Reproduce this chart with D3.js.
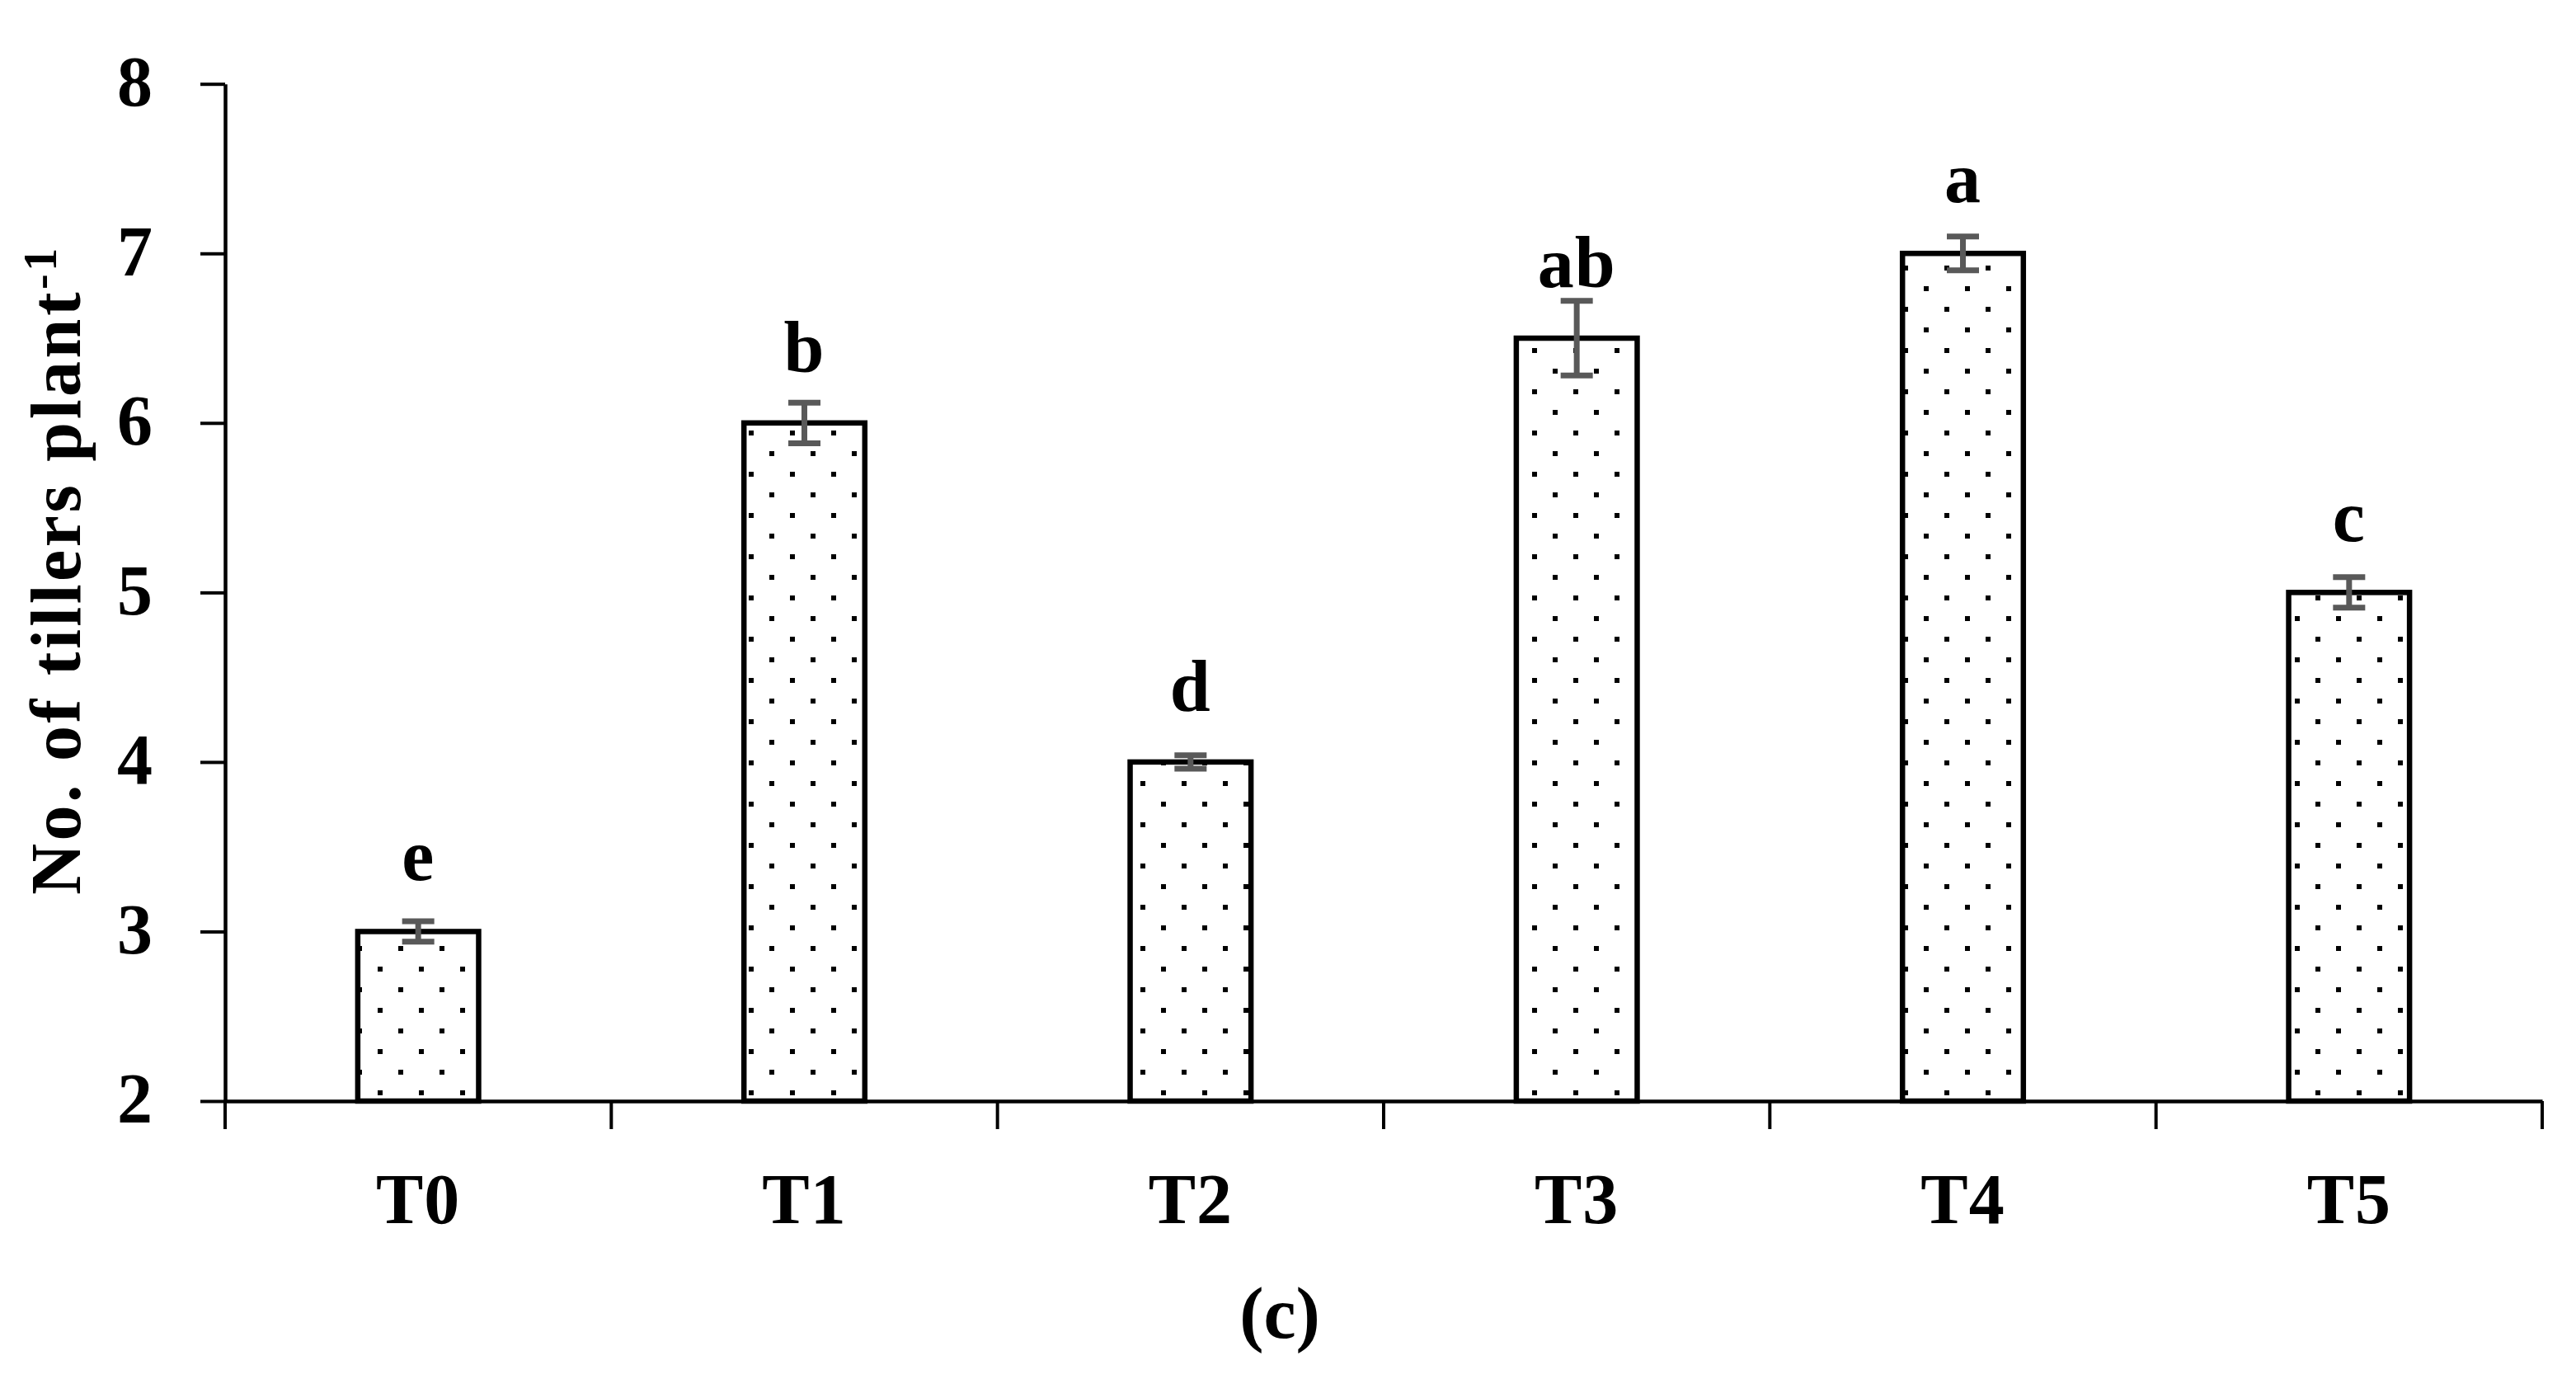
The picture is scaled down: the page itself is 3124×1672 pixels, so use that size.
<!DOCTYPE html>
<html>
<head>
<meta charset="utf-8">
<script src="https://cdn.jsdelivr.net/npm/d3@7"></script>
<style>
  html, body { margin: 0; padding: 0; background: #fff; }
  svg text { font-family: "Liberation Serif", "Times New Roman", serif; font-weight: bold; fill: #000; }
</style>
</head>
<body>
<svg id="chart" width="3124" height="1672"></svg>
<script>
const categories = ["T0", "T1", "T2", "T3", "T4", "T5"];
const values = [3, 6, 4, 6.5, 7, 5];
const errors = [0.06, 0.12, 0.04, 0.22, 0.1, 0.09];
const letters = ["e", "b", "d", "ab", "a", "c"];
const yTicks = [2, 3, 4, 5, 6, 7, 8];
const yLabel = "No. of tillers plant";
const yLabelSup = "-1";
const panelLabel = "(c)";

(function () {
const svg = d3.select("#chart");
const mLeft = 273, mRight = 3083, mTop = 101.7, mBottom = 1335;

const y = d3.scaleLinear().domain([2, 8]).range([mBottom, mTop]);
const xOuter = d3.scaleBand().domain(categories).range([mLeft, mRight]).padding(0);
const x = d3.scaleBand().domain(categories).range([mLeft, mRight])
  .paddingInner(0.687).paddingOuter(0.3435);

// dotted pattern
const defs = svg.append("defs");
const pat = defs.append("pattern").attr("id", "dots")
  .attr("patternUnits", "userSpaceOnUse").attr("width", 50).attr("height", 50)
  .attr("x", 8).attr("y", 22);
pat.append("rect").attr("x", 0).attr("y", 0).attr("width", 50).attr("height", 50).attr("fill", "#fff");
pat.append("rect").attr("x", 0).attr("y", 0).attr("width", 6).attr("height", 6).attr("fill", "#000");
pat.append("rect").attr("x", 25).attr("y", 25).attr("width", 6).attr("height", 6).attr("fill", "#000");

// bars
svg.append("g").selectAll("rect").data(categories).join("rect")
  .attr("x", d => x(d))
  .attr("y", (d, i) => y(values[i]))
  .attr("width", x.bandwidth())
  .attr("height", (d, i) => y(2) - y(values[i]))
  .attr("fill", "url(#dots)")
  .attr("stroke", "#000")
  .attr("stroke-width", 6.5);

// y axis
const yAxis = d3.axisLeft(y).tickValues(yTicks).tickSize(30).tickSizeOuter(0).tickPadding(58).tickFormat(d3.format("d"));
const gy = svg.append("g").attr("transform", `translate(${mLeft},0)`).call(yAxis);
gy.select(".domain").attr("stroke", "#000").attr("stroke-width", 4.5);
gy.selectAll(".tick line").attr("stroke", "#000").attr("stroke-width", 4);
gy.selectAll(".tick text").attr("font-size", 86).attr("dy", "0.3em")
  .style("font-family", "'Liberation Serif', serif").style("font-weight", "bold");

// x axis: labels at centers, ticks at boundaries
const xAxis = d3.axisBottom(xOuter).tickSize(0).tickSizeOuter(0).tickPadding(148);
const gx = svg.append("g").attr("transform", `translate(0,${mBottom})`).call(xAxis);
gx.select(".domain").attr("stroke", "#000").attr("stroke-width", 4.5);
gx.selectAll(".tick text").attr("font-size", 86).attr("dy", "0").attr("letter-spacing", 1)
  .style("font-family", "'Liberation Serif', serif").style("font-weight", "bold");
const boundaries = categories.map(c => xOuter(c)).concat([xOuter.range()[1]]);
gx.append("g").selectAll("line").data(boundaries).join("line")
  .attr("x1", d => d).attr("x2", d => d)
  .attr("y1", 0).attr("y2", 34)
  .attr("stroke", "#000").attr("stroke-width", 4);

// error bars
const eg = svg.append("g").attr("stroke", "#595959").attr("stroke-width", 7);
categories.forEach((c, i) => {
  const cx = x(c) + x.bandwidth() / 2;
  const y1 = y(values[i] + errors[i]), y0 = y(values[i] - errors[i]);
  eg.append("line").attr("x1", cx).attr("x2", cx).attr("y1", y1).attr("y2", y0);
  eg.append("line").attr("x1", cx - 19.5).attr("x2", cx + 19.5).attr("y1", y1).attr("y2", y1);
  eg.append("line").attr("x1", cx - 19.5).attr("x2", cx + 19.5).attr("y1", y0).attr("y2", y0);
});

// significance letters
svg.append("g").selectAll("text").data(categories).join("text")
  .attr("x", d => x(d) + x.bandwidth() / 2)
  .attr("y", (d, i) => y(values[i]) - 62)
  .attr("text-anchor", "middle")
  .attr("font-size", 88)
  .attr("letter-spacing", 1)
  .text((d, i) => letters[i]);

// y axis title
const yt = svg.append("text")
  .attr("transform", `translate(97,1085) rotate(-90)`)
  .attr("text-anchor", "start")
  .attr("font-size", 86)
  .attr("letter-spacing", 3.5);
yt.append("tspan").text(yLabel);
yt.append("tspan").attr("font-size", 56).attr("dy", -29).text(yLabelSup);

// panel label
svg.append("text").attr("x", 1552).attr("y", 1622).attr("text-anchor", "middle")
  .attr("font-size", 88).text(panelLabel);
})();
</script>
</body>
</html>
